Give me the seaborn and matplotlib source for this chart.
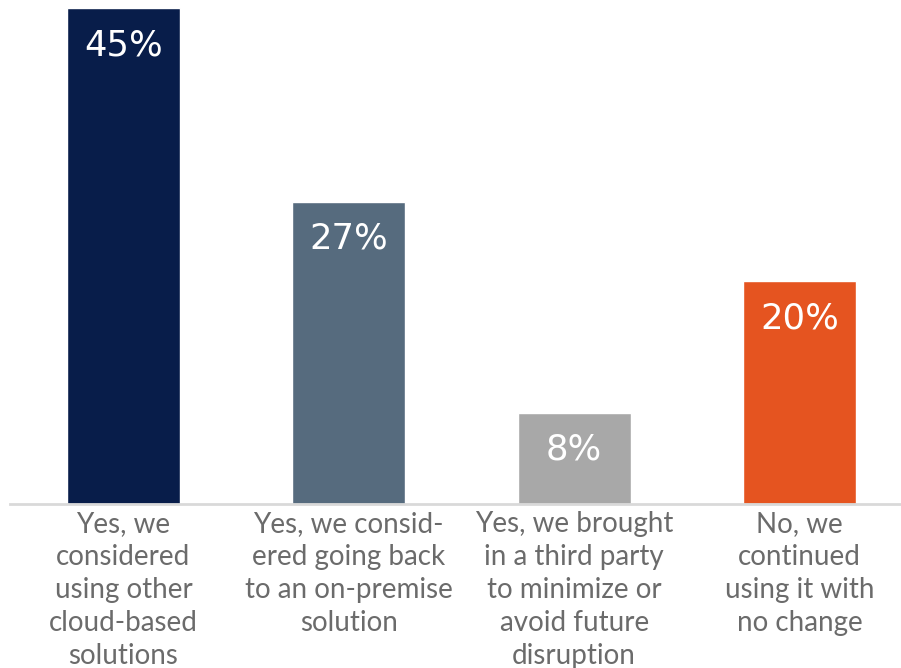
import matplotlib
matplotlib.use("Agg")
import matplotlib.pyplot as plt
import seaborn as sns
import pandas as pd

categories = [
    "Yes, we\nconsidered\nusing other\ncloud-based\nsolutions",
    "Yes, we consid-\nered going back\nto an on-premise\nsolution",
    "Yes, we brought\nin a third party\nto minimize or\navoid future\ndisruption",
    "No, we\ncontinued\nusing it with\nno change",
]
values = [45, 27.4, 8.3, 20.2]
value_labels = ["45%", "27%", "8%", "20%"]
colors = ["#081d4a", "#566b7e", "#a8a8a8", "#e55420"]

sns.set_theme(style="white")
plt.rcParams["font.family"] = ["Lato", "DejaVu Sans"]

df = pd.DataFrame({"cat": categories, "val": values})

fig = plt.figure(figsize=(9.01, 6.68), dpi=100)
ax = fig.add_axes([10 / 901, (668 - 504) / 668, 1 - 10 / 901, (504 - 8) / 668])
sns.barplot(data=df, x="cat", y="val", hue="cat", palette=colors, width=0.5,
            legend=False, ax=ax, saturation=1)

ax.set_ylim(0, 45)
ax.set_xlim(-0.503, 3.45)
for s in ["top", "right", "left"]:
    ax.spines[s].set_visible(False)
ax.spines["bottom"].set_color("#d9d9d9")
ax.spines["bottom"].set_linewidth(2)
ax.set_yticks([])
ax.set_xlabel("")
ax.set_ylabel("")
ax.set_xticks(range(len(categories)))
ax.set_xticklabels([])
for i, c in enumerate(categories):
    ax.annotate(c, xy=(i, 0), xycoords="data", xytext=(0, -7), textcoords="offset pixels",
                ha="center", va="top", fontsize=20, color="#6b6b6b", linespacing=1.33)

for i, (v, lab) in enumerate(zip(values, value_labels)):
    ax.annotate(lab, xy=(i, v), xycoords="data", xytext=(0, -37), textcoords="offset pixels",
                ha="center", va="center", fontsize=25.5, color="white",
                family="DejaVu Sans")

fig.savefig("out.png", dpi=100)
